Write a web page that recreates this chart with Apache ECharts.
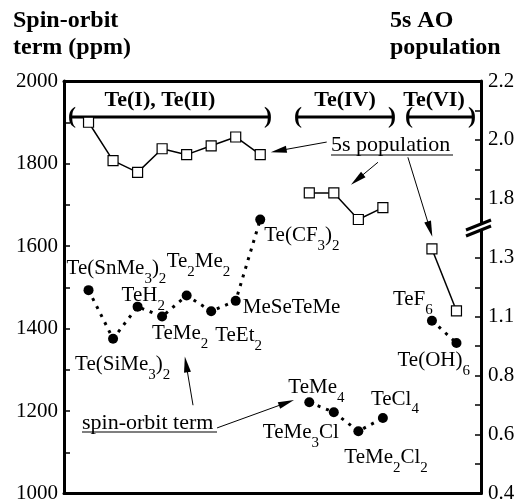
<!DOCTYPE html>
<html>
<head>
<meta charset="utf-8">
<script src="https://cdn.jsdelivr.net/npm/echarts@6/dist/echarts.min.js"></script>
<style>
html, body { margin: 0; padding: 0; background: #fff; }
#chart { width: 525px; height: 504px; }
</style>
</head>
<body>
<div id="chart"></div>
<script>
// compounds, grouped by Te oxidation state
var namesI = ['Te(SnMe3)2', 'Te(SiMe3)2', 'TeH2', 'TeMe2', 'Te2Me2', 'TeEt2', 'MeSeTeMe', 'Te(CF3)2']
var namesIV = ['TeMe4', 'TeMe3Cl', 'TeMe2Cl2', 'TeCl4']
var namesVI = ['TeF6', 'Te(OH)6']

// x slot of each compound
var slotsI = [0, 1, 2, 3, 4, 5, 6, 7]
var slotsIV = [9, 10, 11, 12]
var slotsVI = [14, 15]

// spin-orbit term (ppm)
var soI = [1493, 1375, 1453, 1429, 1480, 1442, 1467, 1664]
var soIV = [1221, 1197, 1151, 1183]
var soVI = [1419, 1365]

// 5s AO population
var popI = [2.06, 1.93, 1.89, 1.97, 1.95, 1.98, 2.01, 1.95]
var popIV = [1.82, 1.82, 1.73, 1.77]
var popVI = [1.33, 1.12]

// right axis labels, one per tick step (the axis is broken)
var popTickLabels = ['0.4', '', '0.6', '', '0.8', '', '1.1', '', '1.3', '', '1.8', '', '2.0', '', '2.2']

// label offsets from each point [dx, dy]
var offI = [[-22, -22], [-38, 26], [-16, -11], [-10, 17], [-20, -34], [4, 24], [7, 7], [4, 16]]
var offIV = [[-21, -15], [-71, 20], [-14, 26], [-12, -19]]
var offVI = [[-39, -21], [-59, 18]]

// annotation arrows, in data coords of the left axis
var arrows = [
  [[9.71, 1852], [7.75, 1831]],
  [[11.8, 1803], [10.95, 1761]],
  [[13.02, 1815], [13.92, 1641]],
  [[4.26, 1214], [3.98, 1313]],
  [[5.24, 1159], [8.07, 1220]]
]

var FONT = 'Liberation Serif'
// narrow arrow head, padded to a square box so it keeps its shape
var ARROW_HEAD = 'path://M0,0 L3.5,16 L-3.5,16 Z M-8,0 M8,16'

// maps a population value onto the broken right axis
function popToTick (v) {
  if (v >= 1.6) return 10 + (v - 1.8) / 0.1
  if (v >= 1.1) return 6 + (v - 1.1) / 0.1
  if (v >= 0.8) return 4 + (v - 0.8) / 0.15
  return (v - 0.4) / 0.1
}

// digits become subscripts
function chem (name) {
  return name.replace(/(\d+)|(\D+)/g, function (m, d, t) {
    return d ? '{s|' + d + '}' : '{n|' + t + '}'
  })
}

var rich = {
  n: { fontFamily: FONT, fontSize: 21, lineHeight: 36, color: '#000' },
  s: { fontFamily: FONT, fontSize: 15, lineHeight: 14, color: '#000', verticalAlign: 'bottom' }
}

function soSeries (slots, values, names, offs) {
  return {
    type: 'line',
    yAxisIndex: 0,
    symbol: 'circle',
    symbolSize: 10,
    itemStyle: { color: '#000' },
    lineStyle: { color: '#000', width: 3, type: [3, 6] },
    z: 3,
    data: slots.map(function (x, i) {
      var txt = chem(names[i])
      return {
        value: [x, values[i]],
        label: {
          show: true,
          position: 'inside',
          align: 'left',
          verticalAlign: 'middle',
          offset: offs[i],
          formatter: function () { return txt },
          rich: rich
        }
      }
    })
  }
}

function popSeries (slots, values) {
  return {
    type: 'line',
    yAxisIndex: 1,
    symbol: 'rect',
    symbolSize: 10,
    itemStyle: { color: '#fff', borderColor: '#000', borderWidth: 1.2 },
    lineStyle: { color: '#000', width: 1.5 },
    z: 4,
    data: slots.map(function (x, i) { return [x, popToTick(values[i])] })
  }
}

function txt (text, x, y, size, weight, extra) {
  return {
    type: 'text',
    x: x,
    y: y,
    style: Object.assign({ text: text, fontFamily: FONT, fontSize: size, fontWeight: weight, fill: '#000' }, extra || {})
  }
}

function bracket (x1, x2, y) {
  return [
    { type: 'line', shape: { x1: x1, y1: y, x2: x2, y2: y }, style: { stroke: '#000', lineWidth: 3 } },
    txt('(', x1 - 4, y, 24, 'bold', { verticalAlign: 'middle' }),
    txt(')', x2 - 4, y, 24, 'bold', { verticalAlign: 'middle' })
  ]
}

var chart = echarts.init(document.getElementById('chart'))

var axisCommon = {
  axisLine: { onZero: false, lineStyle: { color: '#000', width: 3 } },
  splitLine: { show: false }
}

chart.setOption({
  animation: false,
  grid: { left: 64, right: 44, top: 81, bottom: 7 },
  xAxis: [
    Object.assign({ type: 'value', min: -1, max: 16, position: 'bottom', axisTick: { show: false }, axisLabel: { show: false } }, axisCommon),
    Object.assign({ type: 'value', min: -1, max: 16, position: 'top', axisTick: { show: false }, axisLabel: { show: false } }, axisCommon)
  ],
  yAxis: [
    Object.assign({
      type: 'value',
      min: 1000,
      max: 2000,
      interval: 100,
      position: 'left',
      axisTick: { inside: true, length: 6, lineStyle: { color: '#000', width: 1.5 } },
      axisLabel: {
        margin: 6,
        color: '#000',
        fontFamily: FONT,
        fontSize: 21,
        formatter: function (v) { return v % 200 === 0 ? String(v) : '' }
      }
    }, axisCommon),
    Object.assign({
      type: 'value',
      min: 0,
      max: 14,
      interval: 1,
      position: 'right',
      axisTick: { inside: true, length: 6, lineStyle: { color: '#000', width: 1.5 } },
      axisLabel: {
        margin: 7,
        color: '#000',
        fontFamily: FONT,
        fontSize: 21,
        formatter: function (v) { return popTickLabels[Math.round(v)] || '' }
      }
    }, axisCommon)
  ],
  series: [
    soSeries(slotsI, soI, namesI, offI),
    soSeries(slotsIV, soIV, namesIV, offIV),
    soSeries(slotsVI, soVI, namesVI, offVI),
    popSeries(slotsI, popI),
    popSeries(slotsIV, popIV),
    popSeries(slotsVI, popVI),
    {
      type: 'line',
      yAxisIndex: 0,
      data: [],
      markLine: {
        silent: true,
        symbol: ['none', ARROW_HEAD],
        symbolSize: 16,
        label: { show: false },
        itemStyle: { color: '#000' },
        lineStyle: { color: '#000', width: 1, type: 'solid' },
        data: arrows.map(function (a) { return [{ coord: a[0] }, { coord: a[1] }] })
      },
      z: 5
    }
  ],
  graphic: [
    // axis titles, one text per line
    txt('Spin-orbit', 13, 9, 24, 'bold'),
    txt('term (ppm)', 13, 36, 24, 'bold'),
    txt('5s AO', 390, 9, 24, 'bold'),
    txt('population', 390, 36, 24, 'bold'),
    txt('Te(I), Te(II)', 160, 100, 22, 'bold', { align: 'center', verticalAlign: 'middle' }),
    txt('Te(IV)', 345, 100, 22, 'bold', { align: 'center', verticalAlign: 'middle' }),
    txt('Te(VI)', 434, 100, 22, 'bold', { align: 'center', verticalAlign: 'middle' })
  ].concat(bracket(72, 268, 117), bracket(298, 392, 117), bracket(409, 472, 117), [
    txt('5s population', 331, 145, 22, 'normal', { verticalAlign: 'middle' }),
    { type: 'line', shape: { x1: 331, y1: 155, x2: 453, y2: 155 }, style: { stroke: '#000', lineWidth: 1.2 } },
    txt('spin-orbit term', 82, 423, 22, 'normal', { verticalAlign: 'middle' }),
    { type: 'line', shape: { x1: 82, y1: 432, x2: 217, y2: 432 }, style: { stroke: '#000', lineWidth: 1.2 } },
    // axis break
    { type: 'polygon', shape: { points: [[470, 229], [492, 221], [492, 226], [470, 234]] }, style: { fill: '#fff' }, z: 100 },
    { type: 'line', shape: { x1: 466, y1: 230, x2: 491, y2: 220 }, style: { stroke: '#000', lineWidth: 3 }, z: 101 },
    { type: 'line', shape: { x1: 466, y1: 236, x2: 491, y2: 226 }, style: { stroke: '#000', lineWidth: 3 }, z: 101 }
  ])
})
</script>
</body>
</html>
